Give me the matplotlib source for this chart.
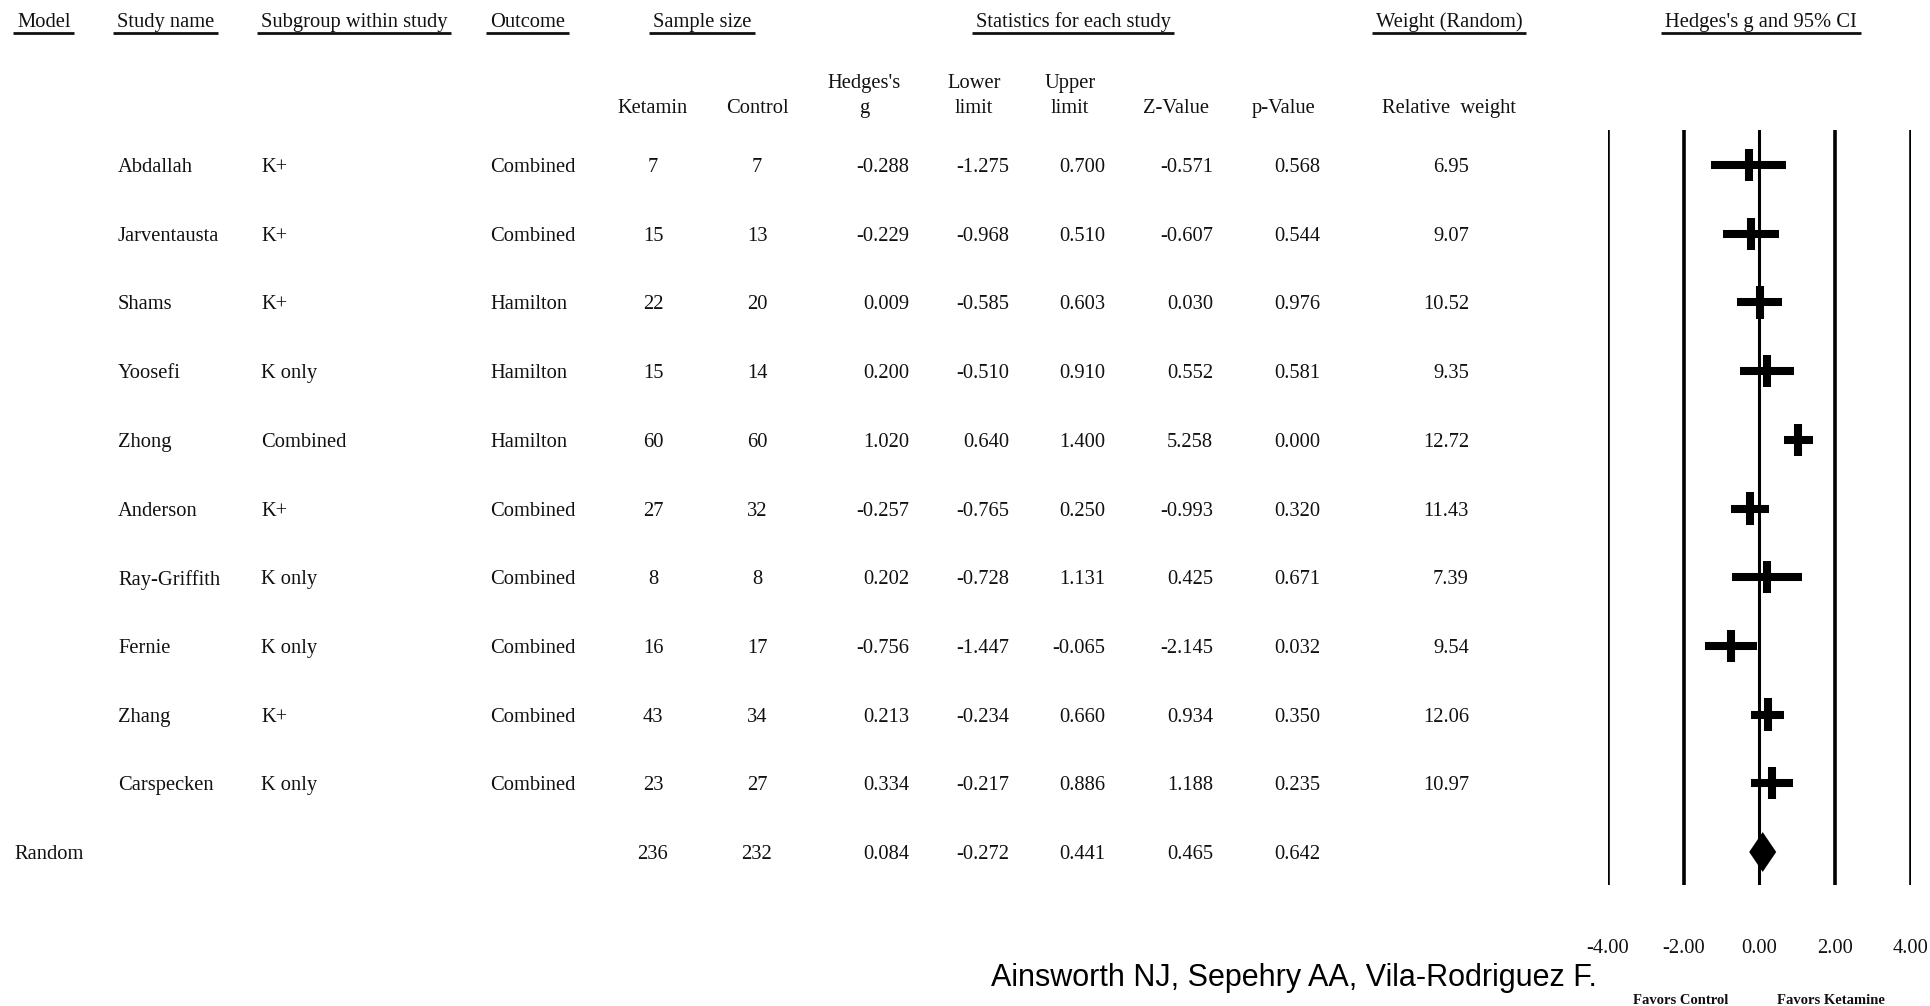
import matplotlib
matplotlib.use("Agg")
import matplotlib.pyplot as plt
from matplotlib import font_manager

studies = ["Abdallah", "Jarventausta", "Shams", "Yoosefi", "Zhong",
           "Anderson", "Ray-Griffith", "Fernie", "Zhang", "Carspecken"]
subgroups = ["K+", "K+", "K+", "K only", "Combined",
             "K+", "K only", "K only", "K+", "K only"]
outcomes = ["Combined", "Combined", "Hamilton", "Hamilton", "Hamilton",
            "Combined", "Combined", "Combined", "Combined", "Combined"]
n_ketamin = [7, 15, 22, 15, 60, 27, 8, 16, 43, 23]
n_control = [7, 13, 20, 14, 60, 32, 8, 17, 34, 27]
hedges_g = [-0.288, -0.229, 0.009, 0.200, 1.020, -0.257, 0.202, -0.756, 0.213, 0.334]
lower = [-1.275, -0.968, -0.585, -0.510, 0.640, -0.765, -0.728, -1.447, -0.234, -0.217]
upper = [0.700, 0.510, 0.603, 0.910, 1.400, 0.250, 1.131, -0.065, 0.660, 0.886]
z_value = [-0.571, -0.607, 0.030, 0.552, 5.258, -0.993, 0.425, -2.145, 0.934, 1.188]
p_value = [0.568, 0.544, 0.976, 0.581, 0.000, 0.320, 0.671, 0.032, 0.350, 0.235]
rel_weight = [6.95, 9.07, 10.52, 9.35, 12.72, 11.43, 7.39, 9.54, 12.06, 10.97]

# pooled random-effects row
pooled_n = (236, 232)
pooled = dict(g=0.084, lo=-0.272, hi=0.441, z=0.465, p=0.642)

x_ticks = [-4, -2, 0, 2, 4]

W, H = 1931, 1006
fig = plt.figure(figsize=(W / 100, H / 100), dpi=100)
fig.patch.set_facecolor("white")

# text layer in pixel units
tab = fig.add_axes([0, 0, 1, 1])
tab.set_xlim(0, W)
tab.set_ylim(H, 0)
tab.axis("off")

SERIF = "Liberation Serif"
FS = 14.8
ROW0, DY = 165, 68.7
NUDGE = 2.5  # va="center" sits text a touch high, push it down


def row_y(i):
    return ROW0 + i * DY


def txt(x, y, s, ha="left", **kw):
    return tab.text(x, y + NUDGE, s, ha=ha, va="center", family=SERIF,
                    fontsize=FS, color="#111111", **kw)


# top headers, underlined
headers = [(17, "Model", "left"), (117, "Study name", "left"),
           (261, "Subgroup within study", "left"), (490, "Outcome", "left"),
           (702, "Sample size", "center"), (1073, "Statistics for each study", "center"),
           (1449, "Weight (Random)", "center"), (1761, "Hedges's g and 95% CI", "center")]
renderer = fig.canvas.get_renderer()
for x, s, ha in headers:
    t = txt(x, 20, s, ha=ha)
    bb = t.get_window_extent(renderer=renderer)
    tab.plot([bb.x0 - 4, bb.x1 + 4], [33, 33], color="#111111", lw=2.0,
             solid_capstyle="butt")

# column sub-headers
txt(653, 106, "Ketamin", ha="center")
txt(757, 106, "Control", ha="center")
txt(864, 81, "Hedges's", ha="center")
txt(864, 106, "g", ha="center")
txt(974, 81, "Lower", ha="center")
txt(974, 106, "limit", ha="center")
txt(1070, 81, "Upper", ha="center")
txt(1070, 106, "limit", ha="center")
txt(1176, 106, "Z-Value", ha="center")
txt(1284, 106, "p-Value", ha="center")
txt(1449, 106, "Relative  weight", ha="center")

# study rows
for i, name in enumerate(studies):
    y = row_y(i)
    txt(118, y, name)
    txt(261, y, subgroups[i])
    txt(490, y, outcomes[i])
    txt(653, y, str(n_ketamin[i]), ha="center")
    txt(757, y, str(n_control[i]), ha="center")
    txt(909, y, f"{hedges_g[i]:.3f}", ha="right")
    txt(1009, y, f"{lower[i]:.3f}", ha="right")
    txt(1105, y, f"{upper[i]:.3f}", ha="right")
    txt(1213, y, f"{z_value[i]:.3f}", ha="right")
    txt(1320, y, f"{p_value[i]:.3f}", ha="right")
    txt(1469, y, f"{rel_weight[i]:.2f}", ha="right")

# pooled row
k = len(studies)
y = row_y(k)
txt(14, y, "Random")
txt(653, y, str(pooled_n[0]), ha="center")
txt(757, y, str(pooled_n[1]), ha="center")
txt(909, y, f"{pooled['g']:.3f}", ha="right")
txt(1009, y, f"{pooled['lo']:.3f}", ha="right")
txt(1105, y, f"{pooled['hi']:.3f}", ha="right")
txt(1213, y, f"{pooled['z']:.3f}", ha="right")
txt(1320, y, f"{pooled['p']:.3f}", ha="right")

# forest plot
top_px, bot_px = 130, 885
fp = fig.add_axes([1608 / W, 1 - bot_px / H, 303 / W, (bot_px - top_px) / H])
fp.set_xlim(-4, 4)
fp.set_ylim((bot_px - ROW0) / DY, (top_px - ROW0) / DY)
fp.patch.set_alpha(0)
for sp in fp.spines.values():
    sp.set_visible(False)
fp.set_yticks([])
fp.set_xticks(x_ticks)
fp.set_xticklabels([f"{v:.2f}" for v in x_ticks], family=SERIF, fontsize=FS,
                   color="#111111")
fp.tick_params(axis="x", length=0, pad=39)

for v in x_ticks:
    fp.axvline(v, color="black", lw=2.2 if v == 0 else 2.6, zorder=1)

rows = list(range(k))
fp.hlines(rows, lower, upper, color="black", lw=5.8, capstyle="butt", zorder=3)
fp.vlines(hedges_g, [r - 0.235 for r in rows], [r + 0.235 for r in rows],
          color="black", lw=5.8, capstyle="butt", zorder=3)
h = 0.29
fp.fill([pooled["lo"], pooled["g"], pooled["hi"], pooled["g"]],
        [k, k - h, k, k + h], color="black", lw=0, zorder=3)

tab.text(1681, 1001, "Favors Control", ha="center", va="center", family=SERIF,
         fontsize=10.5, fontweight="bold", color="#111111")
tab.text(1831, 1001, "Favors Ketamine", ha="center", va="center", family=SERIF,
         fontsize=10.5, fontweight="bold", color="#111111")

# citation line
names = {f.name for f in font_manager.fontManager.ttflist}
if "Liberation Sans Narrow" in names:
    cite_family, cite_size = "Liberation Sans Narrow", 26.5
else:
    cite_family, cite_size = "Liberation Sans", 22
tab.text(991, 978, "Ainsworth NJ, Sepehry AA, Vila-Rodriguez F.", ha="left",
         va="center", family=cite_family, fontsize=cite_size, color="black")

fig.savefig("out.png", dpi=100)
